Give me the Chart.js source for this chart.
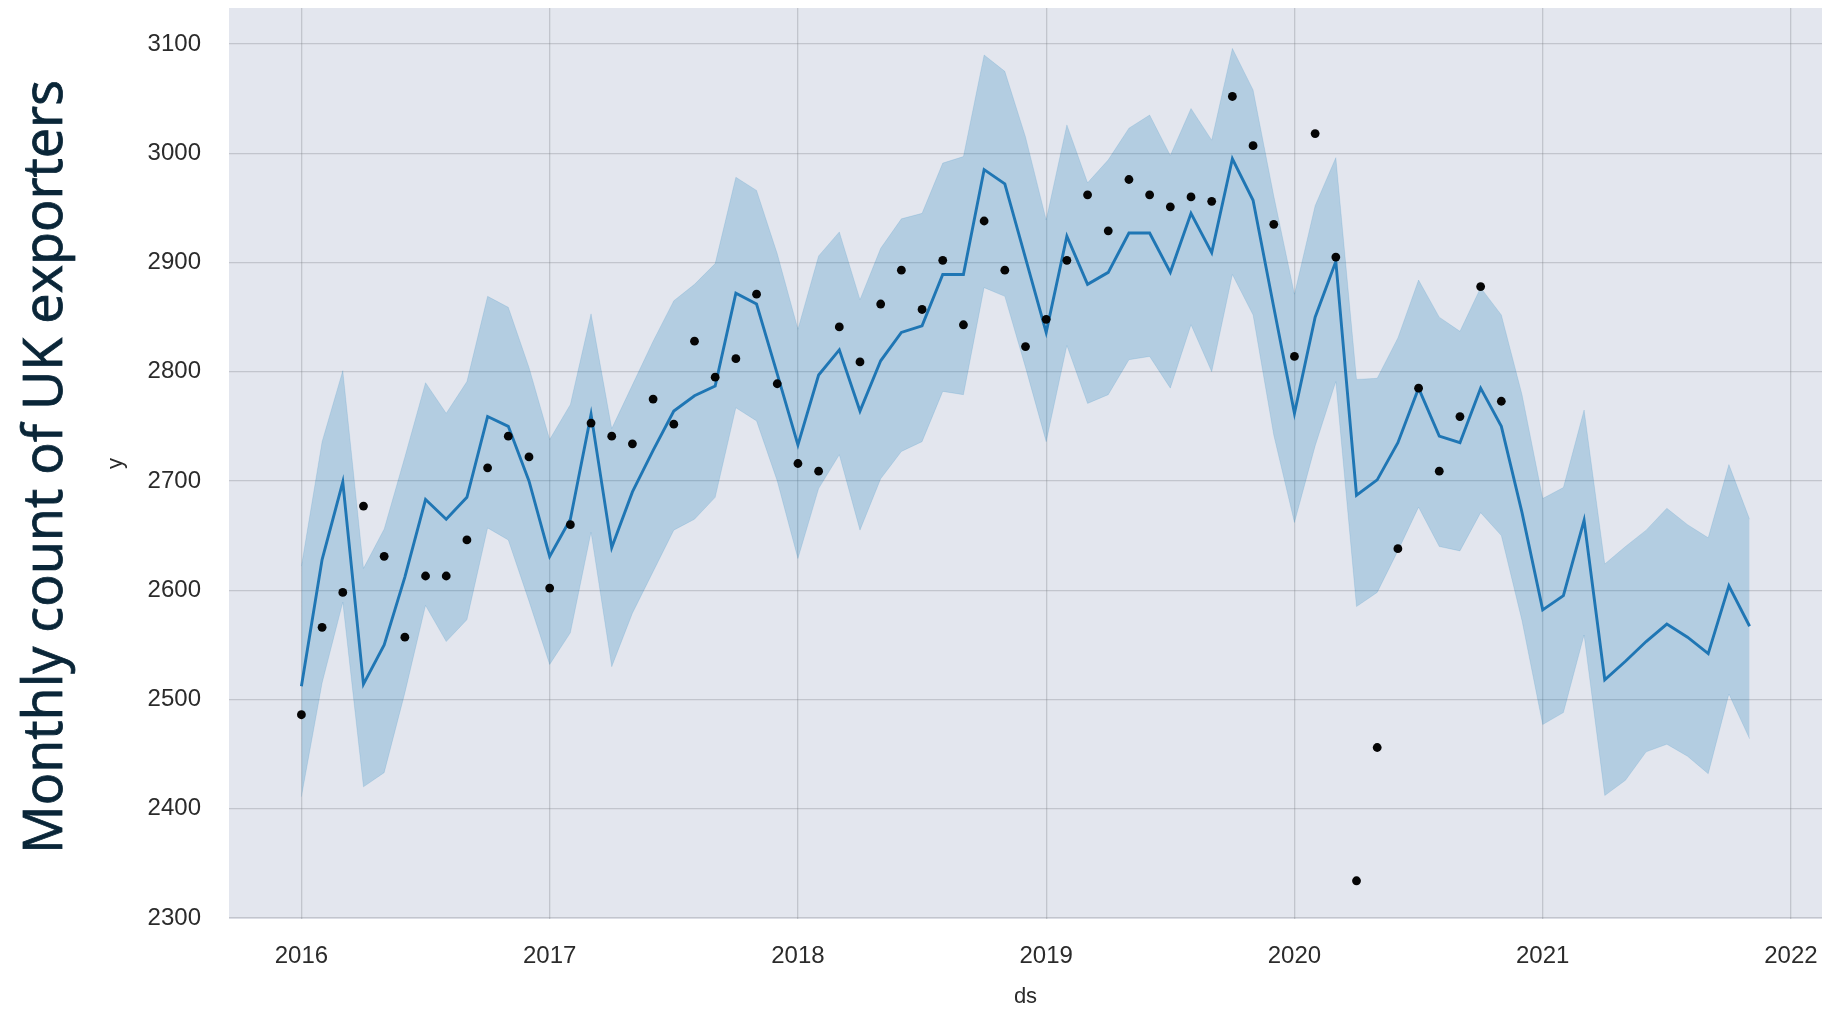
<!DOCTYPE html>
<html>
<head>
<meta charset="utf-8">
<script src="https://cdn.jsdelivr.net/npm/chart.js@4.4.1/dist/chart.umd.min.js"></script>
<style>
html,body{margin:0;padding:0;background:#ffffff;}
canvas{display:block;}
</style>
</head>
<body>
<canvas id="c" width="1830" height="1011"></canvas>
<script>
// ---- Data ----
const months = [
 '2016-01','2016-02','2016-03','2016-04','2016-05','2016-06','2016-07','2016-08','2016-09','2016-10','2016-11','2016-12',
 '2017-01','2017-02','2017-03','2017-04','2017-05','2017-06','2017-07','2017-08','2017-09','2017-10','2017-11','2017-12',
 '2018-01','2018-02','2018-03','2018-04','2018-05','2018-06','2018-07','2018-08','2018-09','2018-10','2018-11','2018-12',
 '2019-01','2019-02','2019-03','2019-04','2019-05','2019-06','2019-07','2019-08','2019-09','2019-10','2019-11','2019-12',
 '2020-01','2020-02','2020-03','2020-04','2020-05','2020-06','2020-07','2020-08','2020-09','2020-10','2020-11','2020-12',
 '2021-01','2021-02','2021-03','2021-04','2021-05','2021-06','2021-07','2021-08','2021-09','2021-10','2021-11'
];

// observed monthly counts (2016-01 .. 2020-11)
const actual = [
 2486,2566,2598,2677,2631,2557,2613,2613,2646,2712,2741,2722,
 2602,2660,2753,2741,2734,2775,2752,2828,2795,2812,2871,2789,
 2716,2709,2841,2809,2862,2893,2857,2902,2843,2938,2893,2823,
 2848,2902,2962,2929,2976,2962,2951,2960,2956,3052,3007,2935,
 2814,3018,2905,2334,2456,2638,2785,2709,2759,2878,2773
];

// fitted / forecast line (yhat)
const yhat = [
 2512,2628,2699,2514,2550,2612,2683,2665,2685,2759,2750,2700,
 2631,2665,2761,2639,2690,2728,2764,2778,2787,2872,2862,2798,
 2733,2797,2820,2764,2810,2836,2842,2889,2889,2985,2972,2904,
 2836,2924,2880,2891,2927,2927,2891,2945,2909,2995,2957,2859,
 2762,2850,2901,2687,2701,2735,2785,2741,2735,2785,2750,2671,
 2582,2595,2664,2518,2535,2553,2569,2557,2542,2604,2567
];

// uncertainty interval, upper bound
const upper = [
 2622,2736,2801,2620,2656,2722,2790,2762,2791,2869,2859,2804,
 2738,2770,2853,2748,2788,2828,2865,2880,2899,2978,2966,2908,
 2839,2906,2928,2866,2913,2940,2945,2991,2997,3090,3075,3015,
 2939,3026,2973,2994,3023,3035,2998,3041,3012,3096,3058,2961,
 2871,2952,2996,2793,2794,2831,2884,2850,2837,2877,2852,2779,
 2684,2694,2765,2624,2640,2655,2675,2660,2648,2715,2665
];

// uncertainty interval, lower bound
const lower = [
 2411,2515,2589,2420,2433,2506,2586,2553,2573,2657,2646,2590,
 2532,2561,2653,2530,2579,2617,2655,2665,2685,2767,2755,2700,
 2629,2693,2724,2655,2702,2727,2736,2782,2779,2877,2869,2804,
 2736,2824,2771,2779,2811,2814,2785,2843,2800,2889,2852,2742,
 2662,2732,2791,2585,2598,2636,2676,2640,2636,2671,2650,2572,
 2477,2488,2559,2412,2426,2452,2459,2448,2432,2505,2464
];

const yearTicks = ['2016','2017','2018','2019','2020','2021','2022'];
const yTicks = [2300,2400,2500,2600,2700,2800,2900,3000,3100];

const titleText = 'Monthly count of UK exporters';
const xLabel = 'ds';
const yLabel = 'y';

// ---- helpers ----
const monthIndex = s => { const p = s.split('-').map(Number); return (p[0] - 2016) * 12 + (p[1] - 1); };
const toPoints = vals => vals.map((v, i) => ({ x: monthIndex(months[i]), y: v }));
const yearValue = y => (Number(y) - 2016) * 12;

const TICK_FONT = { family: '"Liberation Sans", Arial, Helvetica, sans-serif', size: 24 };
const LABEL_FONT = { family: '"Liberation Sans", Arial, Helvetica, sans-serif', size: 22 };
const GRID = { color: 'rgba(120,122,130,0.30)', lineWidth: 1.3, drawTicks: false };

const bgPlugin = {
  id: 'bg',
  beforeDraw(chart) {
    const { ctx, chartArea: a } = chart;
    ctx.save();
    ctx.fillStyle = '#ffffff';
    ctx.fillRect(0, 0, chart.width, chart.height);
    ctx.fillStyle = '#e3e6ee';
    ctx.fillRect(a.left, a.top, a.right - a.left, a.bottom - a.top);
    ctx.restore();
  }
};

const bigTitle = {
  id: 'bigTitle',
  afterDraw(chart) {
    const ctx = chart.ctx;
    ctx.save();
    ctx.translate(62, 467);
    ctx.rotate(-Math.PI / 2);
    ctx.font = '54px "Open Sans", "Noto Sans", sans-serif';
    ctx.fillStyle = '#0a2638';
    ctx.strokeStyle = '#0a2638';
    ctx.lineWidth = 0.8;
    ctx.textAlign = 'center';
    ctx.textBaseline = 'alphabetic';
    ctx.fillText(titleText, 0, 0);
    ctx.strokeText(titleText, 0, 0);
    ctx.restore();
  }
};

new Chart(document.getElementById('c').getContext('2d'), {
  type: 'line',
  data: {
    datasets: [
      { label: 'y', data: toPoints(actual), showLine: false, pointRadius: 4.4, pointHoverRadius: 4.4,
        pointBackgroundColor: '#050505', pointBorderWidth: 0, order: 0 },
      { label: 'yhat', data: toPoints(yhat), borderColor: '#1f76b4', borderWidth: 2.9, pointRadius: 0,
        fill: false, tension: 0, order: 1 },
      { label: 'yhat_upper', data: toPoints(upper), borderColor: 'rgba(0,114,178,0.12)', borderWidth: 1,
        pointRadius: 0, backgroundColor: 'rgba(0,114,178,0.21)', fill: '+1', tension: 0, order: 2 },
      { label: 'yhat_lower', data: toPoints(lower), borderColor: 'rgba(0,114,178,0.12)', borderWidth: 1,
        pointRadius: 0, fill: false, tension: 0, order: 3 }
    ]
  },
  options: {
    responsive: false,
    animation: false,
    devicePixelRatio: 1,
    layout: { padding: { left: 0, right: 8, top: 8, bottom: 0 } },
    plugins: { legend: { display: false }, tooltip: { enabled: false } },
    scales: {
      x: {
        type: 'linear', position: 'bottom', min: -3.5, max: 73.5,
        afterBuildTicks: s => { s.ticks = yearTicks.map(y => ({ value: yearValue(y) })); },
        afterFit: s => { s.height = 92; s.paddingLeft = 0; s.paddingRight = 0; },
        grid: GRID, border: { display: false },
        ticks: { padding: 23, color: '#2b2b2b', font: TICK_FONT, maxRotation: 0, autoSkip: false,
                 callback: (v, i) => yearTicks[i] },
        title: { display: true, text: xLabel, color: '#2b2b2b', font: LABEL_FONT, padding: { top: 0, bottom: 1 } }
      },
      y: {
        type: 'linear', min: 2299, max: 3133,
        afterBuildTicks: s => { s.ticks = yTicks.map(v => ({ value: v })); },
        afterFit: s => { s.width = 229; s.paddingTop = 0; s.paddingBottom = 0; },
        grid: GRID, border: { display: false },
        ticks: { padding: 28, color: '#2b2b2b', font: TICK_FONT, autoSkip: false,
                 callback: (v, i) => String(yTicks[i]) },
        title: { display: true, text: yLabel, color: '#2b2b2b', font: LABEL_FONT, padding: { top: 103, bottom: 0 } }
      }
    }
  },
  plugins: [bgPlugin, bigTitle]
});
</script>
</body>
</html>
